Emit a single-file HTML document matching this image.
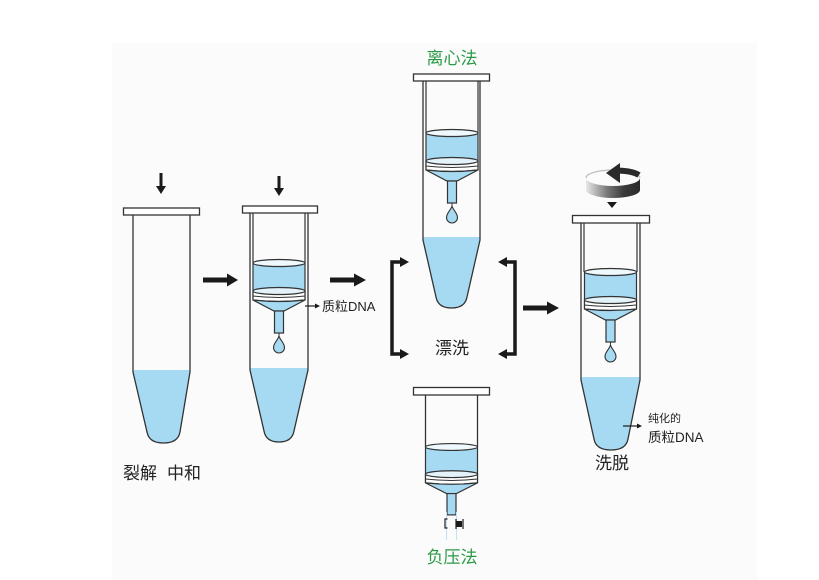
<!DOCTYPE html>
<html><head><meta charset="utf-8"><style>
html,body{margin:0;padding:0;background:#fff;}
svg{display:block;}
text{font-family:"Liberation Sans","Noto Sans CJK SC",sans-serif;}
</style></head><body>
<svg width="819" height="580" viewBox="0 0 819 580" xmlns="http://www.w3.org/2000/svg">
<defs>
<linearGradient id="spin" x1="0" y1="0" x2="1" y2="0">
<stop offset="0" stop-color="#e8e8e8"/><stop offset="0.4" stop-color="#777"/><stop offset="0.7" stop-color="#3a3a3a"/><stop offset="1" stop-color="#2a2a2a"/>
</linearGradient>
<g id="col">
<rect x="-26" y="0" width="52" height="28" fill="#a6d9f2"/>
<line x1="-26" y1="0" x2="-26" y2="37" stroke="#333" stroke-width="1.2"/>
<line x1="26" y1="0" x2="26" y2="37" stroke="#333" stroke-width="1.2"/>
<ellipse cx="0" cy="0" rx="26" ry="3.5" fill="#eef8fd" stroke="#333" stroke-width="1.2"/>
<path d="M-26,28 V37 Q0,40 26,37 V28 Z" fill="#fff" stroke="#333" stroke-width="1.2"/>
<ellipse cx="0" cy="28" rx="26" ry="3.5" fill="#e4f2f9" stroke="#333" stroke-width="1.2"/>
<path d="M-26,33 Q0,36 26,33" fill="none" stroke="#333" stroke-width="1"/>
<path d="M-26,37 Q0,40 26,37 L5,48 L-5,48 Z" fill="#a6d9f2" stroke="#333" stroke-width="1.2"/>
<rect x="-4.5" y="48" width="9" height="22" fill="#a6d9f2" stroke="#333" stroke-width="1.2"/>
</g>
<g id="drop">
<line x1="0" y1="70" x2="0" y2="74" stroke="#333" stroke-width="1"/>
<path d="M0,73 C1,77 5.5,80 5.5,84.5 A5.5,5.5 0 1 1 -5.5,84.5 C-5.5,80 -1,77 0,73 Z" fill="#a6d9f2" stroke="#333" stroke-width="1.1"/>
</g>
</defs>

<rect x="112" y="43" width="645" height="537" fill="#fbfbfb"/>

<!-- Tube 1 -->
<path d="M133,370 V372 L147,432 Q149,443 163.5,443 Q178,443 180,432 L190,372 V370 Z" fill="#a6d9f2"/>
<path d="M133,215 V372 L147,432 Q149,443 163.5,443 Q178,443 180,432 L190,372 V215" fill="none" stroke="#333" stroke-width="1.3"/>
<rect x="123.5" y="208" width="76" height="7" fill="#fff" stroke="#333" stroke-width="1.3"/>
<line x1="161" y1="173" x2="161" y2="187" stroke="#1a1a1a" stroke-width="3"/>
<polygon points="156,186 166,186 161,194" fill="#1a1a1a"/>

<!-- Arrow 1 -->
<rect x="203" y="277.5" width="25" height="5" fill="#1a1a1a"/>
<polygon points="227,273.5 238,280 227,286.5" fill="#1a1a1a"/>

<!-- Tube 2 -->
<path d="M250,368 V370 L264,431 Q266,442 279,442 Q292,442 294,431 L308,370 V368 Z" fill="#a6d9f2"/>
<path d="M250,213 V370 L264,431 Q266,442 279,442 Q292,442 294,431 L308,370 V213" fill="none" stroke="#333" stroke-width="1.3"/>
<line x1="253" y1="213" x2="253" y2="263" stroke="#333" stroke-width="1.2"/>
<line x1="305" y1="213" x2="305" y2="263" stroke="#333" stroke-width="1.2"/>
<rect x="242.5" y="206" width="75" height="7" fill="#fff" stroke="#333" stroke-width="1.3"/>
<use href="#col" transform="translate(279,263)"/>
<use href="#drop" transform="translate(279,263)"/>
<line x1="279" y1="176" x2="279" y2="189" stroke="#1a1a1a" stroke-width="3"/>
<polygon points="274,188 284,188 279,196" fill="#1a1a1a"/>
<line x1="305" y1="306" x2="316" y2="306" stroke="#1a1a1a" stroke-width="1.2"/>
<polygon points="315,303.5 320,306 315,308.5" fill="#1a1a1a"/>
<text x="322" y="311" font-size="13" fill="#222">质粒DNA</text>

<!-- Arrow 2 -->
<rect x="330" y="277.5" width="25" height="5" fill="#1a1a1a"/>
<polygon points="354,273.5 366,280 354,286.5" fill="#1a1a1a"/>

<!-- Tube 3 centrifuge -->
<text x="452" y="64" font-size="17" fill="#2a9a48" text-anchor="middle">离心法</text>
<path d="M423,237 V240 L436,297 Q438,308 451.5,308 Q465,308 467,297 L480,240 V237 Z" fill="#a6d9f2"/>
<path d="M423,81 V240 L436,297 Q438,308 451.5,308 Q465,308 467,297 L480,240 V81" fill="none" stroke="#333" stroke-width="1.3"/>
<line x1="426" y1="81" x2="426" y2="133" stroke="#333" stroke-width="1.2"/>
<line x1="478" y1="81" x2="478" y2="133" stroke="#333" stroke-width="1.2"/>
<rect x="413.5" y="74" width="76" height="7" fill="#fff" stroke="#333" stroke-width="1.3"/>
<use href="#col" transform="translate(452,133)"/>
<use href="#drop" transform="translate(452,133)"/>

<!-- Brackets -->
<path d="M402,262 H392 V354 H402" fill="none" stroke="#1a1a1a" stroke-width="3.5"/>
<polygon points="400,257 409,262 400,267" fill="#1a1a1a"/>
<polygon points="400,349 409,354 400,359" fill="#1a1a1a"/>
<path d="M505,262 H515 V354 H505" fill="none" stroke="#1a1a1a" stroke-width="3.5"/>
<polygon points="507,257 498,262 507,267" fill="#1a1a1a"/>
<polygon points="507,349 498,354 507,359" fill="#1a1a1a"/>
<text x="452" y="354" font-size="17" fill="#222" text-anchor="middle">漂洗</text>

<!-- Arrow 3 -->
<rect x="523" y="305.5" width="25" height="5" fill="#1a1a1a"/>
<polygon points="547,301.5 559,308 547,314.5" fill="#1a1a1a"/>

<!-- Tube 4 negative pressure -->
<line x1="425.5" y1="395" x2="425.5" y2="447" stroke="#333" stroke-width="1.3"/>
<line x1="477.5" y1="395" x2="477.5" y2="447" stroke="#333" stroke-width="1.3"/>
<rect x="413.5" y="387.5" width="76" height="7.5" fill="#fff" stroke="#333" stroke-width="1.3"/>
<use href="#col" transform="translate(451.5,447) scale(1,0.97)"/>
<line x1="446.5" y1="512" x2="446.5" y2="540" stroke="#bfe3f5" stroke-width="1"/>
<line x1="456.5" y1="512" x2="456.5" y2="540" stroke="#bfe3f5" stroke-width="1"/>
<path d="M447.5,519 H445 V528 H447.5" fill="none" stroke="#222" stroke-width="1.2"/>
<rect x="456" y="521" width="6" height="6" fill="#1a1a1a"/>
<line x1="456" y1="519" x2="456" y2="529" stroke="#1a1a1a" stroke-width="1.2"/>
<line x1="463" y1="519" x2="463" y2="529" stroke="#1a1a1a" stroke-width="1.2"/>
<text x="452" y="563" font-size="17" fill="#2a9a48" text-anchor="middle">负压法</text>

<!-- Spin icon -->
<path d="M586,178 A27,8 0 0 1 640,178" fill="none" stroke="#bbb" stroke-width="1.2"/>
<path d="M618,170.5 A27,8 0 0 1 639,175" fill="none" stroke="#2a2a2a" stroke-width="6"/>
<polygon points="606,173 620,163 620,183" fill="#2a2a2a"/>
<path d="M586,178 A27,8 0 0 0 640,178 V190 A27,8 0 0 1 586,190 Z" fill="url(#spin)"/>
<polygon points="607,202 617,202 612,208" fill="#1a1a1a"/>

<!-- Tube 5 elution -->
<path d="M581,377 V380 L594,439 Q596,450 611,450 Q626,450 628,439 L640,380 V377 Z" fill="#a6d9f2"/>
<path d="M581,223 V380 L594,439 Q596,450 611,450 Q626,450 628,439 L640,380 V223" fill="none" stroke="#333" stroke-width="1.3"/>
<line x1="584" y1="223" x2="584" y2="272" stroke="#333" stroke-width="1.2"/>
<line x1="637" y1="223" x2="637" y2="272" stroke="#333" stroke-width="1.2"/>
<rect x="572.5" y="215.5" width="77" height="7.5" fill="#fff" stroke="#333" stroke-width="1.3"/>
<use href="#col" transform="translate(610.5,272)"/>
<use href="#drop" transform="translate(610.5,272)"/>
<line x1="623" y1="426" x2="638" y2="426" stroke="#1a1a1a" stroke-width="1.2"/>
<polygon points="637,423.5 642,426 637,428.5" fill="#1a1a1a"/>
<text x="648" y="422" font-size="11" fill="#222">纯化的</text>
<text x="648" y="442" font-size="13.5" fill="#222">质粒DNA</text>
<text x="612" y="469" font-size="17" fill="#222" text-anchor="middle">洗脱</text>

<!-- Label tube 1 -->
<text x="123" y="479" font-size="17" fill="#222">裂解</text>
<text x="167" y="479" font-size="17" fill="#222">中和</text>
</svg>
</body></html>
